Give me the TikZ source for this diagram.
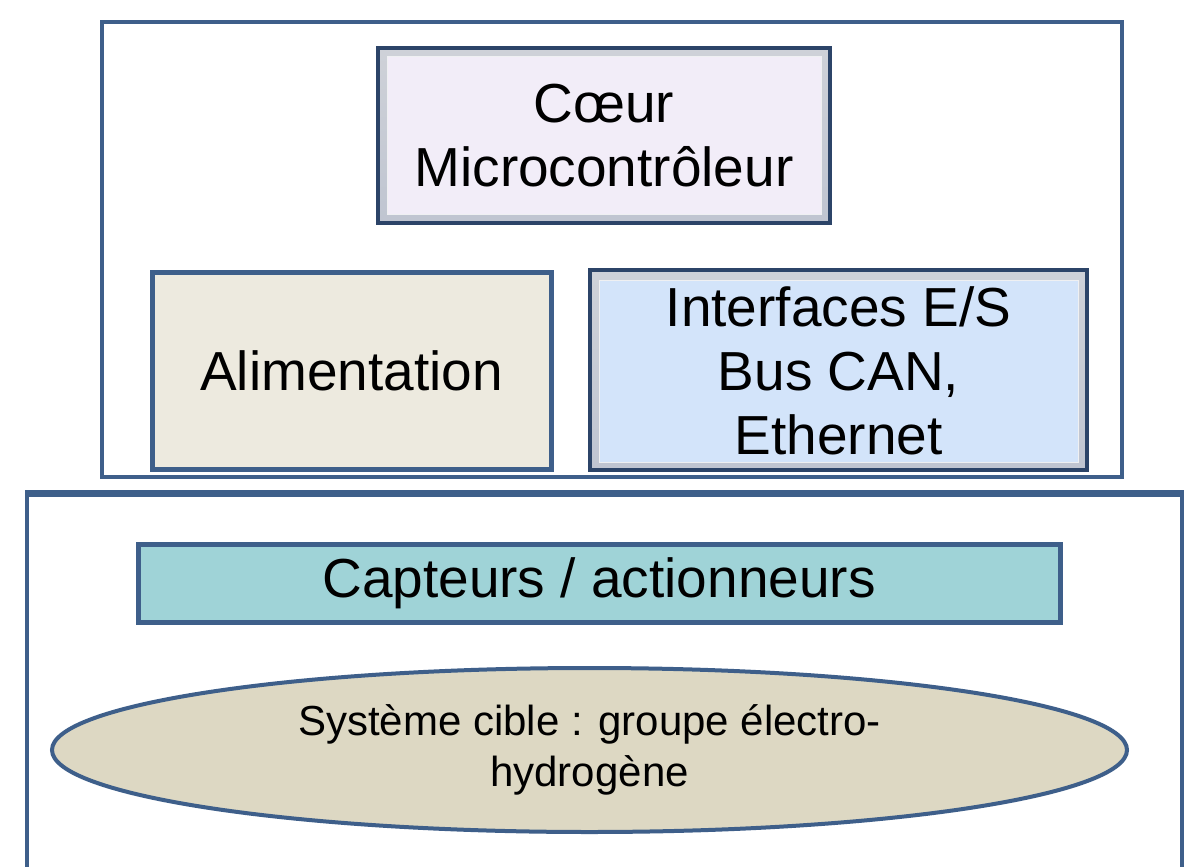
\documentclass[tikz,border=0pt]{standalone}
\usepackage{fontspec}
\setmainfont{Liberation Sans}
\usetikzlibrary{shapes.geometric}
\definecolor{frameblue}{HTML}{3E5F8A}
\definecolor{darkbevel}{HTML}{2C4468}
\definecolor{bevelgray}{HTML}{AEB3BE}
\definecolor{lavender}{HTML}{F2EDF8}
\definecolor{beige}{HTML}{EDEADF}
\definecolor{lightblue}{HTML}{D3E4FA}
\definecolor{teal}{HTML}{9FD3D7}
\definecolor{khaki}{HTML}{DDD8C3}
\tikzset{
  plainframe/.style={draw=frameblue, line width=4pt, fill=white, inner sep=0pt},
  bevelouter/.style={draw=darkbevel, line width=3.5pt, inner sep=0pt,
    top color=bevelgray!60, bottom color=bevelgray!110!black},
  bevelinner/.style={draw=white!80!bevelgray, line width=1pt, inner sep=0pt, align=center,
    font=\fontsize{55}{64}\selectfont},
  flatbox/.style={draw=frameblue, line width=5pt, inner sep=0pt, align=center,
    font=\fontsize{55}{64}\selectfont},
  target/.style={ellipse, draw=frameblue, line width=4pt, fill=khaki, inner sep=0pt,
    align=center, font=\fontsize{42}{51}\selectfont}
}
\begin{document}
\begin{tikzpicture}[x=1pt,y=-1pt]
\useasboundingbox (0,0) rectangle (1199,867);
\fill[white] (0,0) rectangle (1199,867);
% outer frames
\node[plainframe, minimum width=1020pt, minimum height=455pt] (top) at (612,249.5) {};
\node[plainframe, minimum width=1155pt, minimum height=420pt] (bottom) at (604.5,705) {};
\draw[frameblue, line width=6pt] (bottom.north west) -- (bottom.north east);
% Coeur microcontroleur
\node[bevelouter, minimum width=452pt, minimum height=175pt] (coeurframe) at (604,135.5) {};
\node[bevelinner, fill=lavender, minimum width=434pt, minimum height=157pt] (coeur) at (604,135.5)
  {C\oe ur\\Microcontrôleur};
% Alimentation
\node[flatbox, fill=beige, minimum width=399pt, minimum height=197pt] (alim) at (351.5,370.5) {Alimentation};
% Interfaces
\node[bevelouter, minimum width=497pt, minimum height=200pt] (ifaceframe) at (838.5,370) {};
\node[bevelinner, fill=lightblue, minimum width=479pt, minimum height=182pt] (iface) at (838.5,371)
  {Interfaces E/S\\Bus CAN,\\Ethernet};
% Capteurs
\node[flatbox, fill=teal, minimum width=922pt, minimum height=78pt] (capt) at (599,583) {Capteurs / actionneurs};
% Systeme cible
\node[target, minimum width=1075pt, minimum height=164pt] (sys) at (589.5,750)
  {Système cible : groupe électro-\\hydrogène};
\end{tikzpicture}
\end{document}
